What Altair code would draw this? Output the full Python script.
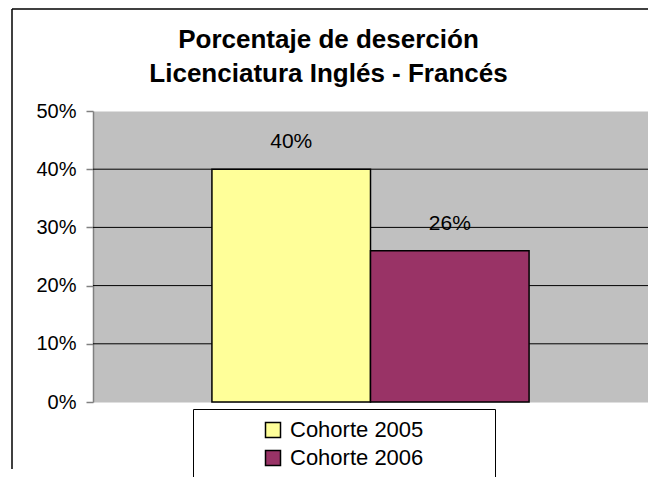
import altair as alt
import pandas as pd

# ---- data ----
series = ["Cohorte 2005", "Cohorte 2006"]
values = [0.40, 0.26]
colors = ["#FFFF99", "#993366"]
grid_values = [0.1, 0.2, 0.3, 0.4]
y_ticks = [0, 0.1, 0.2, 0.3, 0.4, 0.5]
title_lines = ["Porcentaje de deserción", "Licenciatura Inglés - Francés"]

FONT = "Liberation Sans"

df = pd.DataFrame({"serie": series, "valor": values})
grid_df = pd.DataFrame({"valor": grid_values})
frame_df = pd.DataFrame({"k": [0]})

yscale = alt.Scale(domain=[0, 0.5], nice=False)
xscale = alt.Scale(domain=series, paddingInner=0, paddingOuter=0.75)

yaxis = alt.Axis(
    values=y_ticks, format=".0%", grid=False,
    domainColor="#808080", tickColor="#808080", domainWidth=1.5, tickWidth=1.5,
    tickSize=7, labelPadding=10, labelFontSize=20, labelFont=FONT,
    labelColor="black",
)
y_enc = alt.Y("valor:Q", scale=yscale, axis=yaxis, title=None)
x_enc = alt.X("serie:N", scale=xscale, axis=None)

grid = alt.Chart(grid_df).mark_rule(color="black", strokeWidth=1).encode(y=y_enc)

bars = alt.Chart(df).mark_bar(stroke="black", strokeWidth=1.5).encode(
    x=x_enc,
    y=y_enc,
    color=alt.Color(
        "serie:N",
        scale=alt.Scale(domain=series, range=colors),
        legend=alt.Legend(
            orient="none", legendX=100, legendY=298, direction="vertical",
            title="\u00a0", titleOrient="right", titleFontSize=1, titlePadding=62,
            padding=10, strokeColor="black", fillColor="white",
            symbolType="square", symbolSize=225, symbolStrokeColor="black",
            symbolStrokeWidth=1.5, symbolOpacity=1, symbolOffset=59,
            labelOffset=6, labelFontSize=22, labelFont=FONT, labelColor="black",
            rowPadding=6,
        ),
    ),
)

labels = alt.Chart(df).mark_text(
    font=FONT, fontSize=21, color="black", baseline="middle", align="center", dy=-27
).encode(x=x_enc, y=y_enc, text=alt.Text("valor:Q", format=".0%"))

frame_left = alt.Chart(frame_df).mark_rule(color="black", strokeWidth=1.5).encode(
    x=alt.value(-81), y=alt.value(-102), y2=alt.value(358)
)
frame_top = alt.Chart(frame_df).mark_rule(color="black", strokeWidth=1.5).encode(
    x=alt.value(-81), x2=alt.value(555), y=alt.value(-102)
)

chart = alt.layer(frame_left, frame_top, grid, bars, labels).properties(
    width=555,
    height=291,
    padding={"left": 85, "top": 103, "right": 0, "bottom": 75},
    autosize=alt.AutoSizeParams(type="none"),
    background="white",
    title=alt.TitleParams(
        text=title_lines, font=FONT, fontSize=26, fontWeight="bold",
        anchor="middle", dx=-42, dy=79, lineHeight=34, color="black", offset=0,
    ),
).configure_view(fill="#C0C0C0", stroke="transparent")

chart.save("out.html", embed_options={"renderer": "svg", "actions": False})
